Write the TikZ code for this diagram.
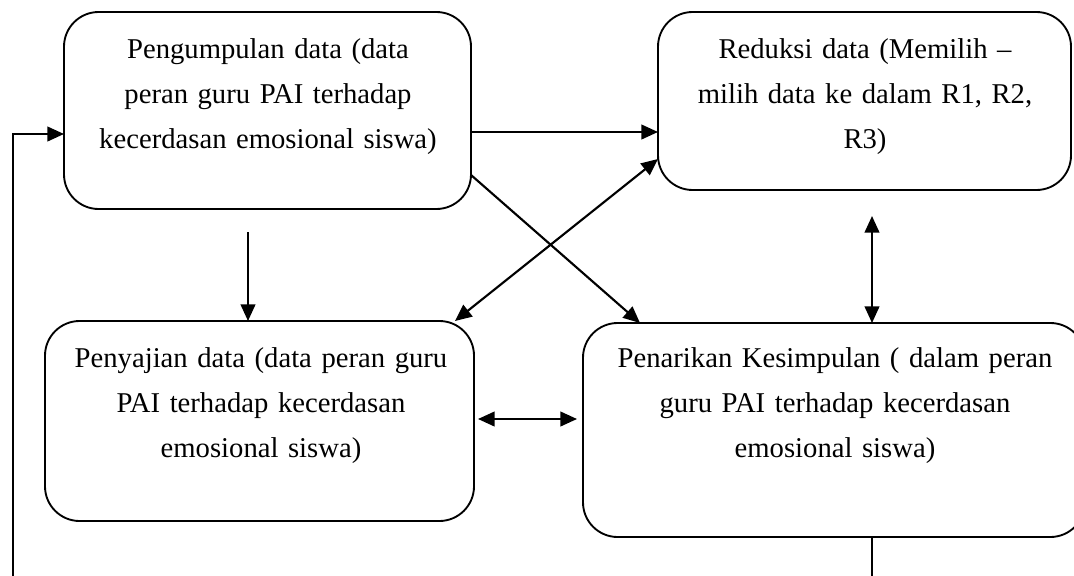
\documentclass[tikz,border=0pt]{standalone}
\usepackage{fontspec}
\setmainfont{Liberation Serif}
\usetikzlibrary{arrows.meta}
\begin{document}
\begin{tikzpicture}[x=0.75pt,y=-0.75pt,
  box/.style={draw,line width=1.4pt,rounded corners=26pt,inner sep=0pt,outer sep=0pt},
  lbl/.style={anchor=base,text width=330pt,align=center,inner sep=0pt,font=\fontsize{21.5pt}{33.75pt}\selectfont},
  arr/.style={line width=1.6pt,-{Triangle[length=12.5pt,width=11pt]}},
  dbl/.style={line width=1.6pt,{Triangle[length=12.5pt,width=11pt]}-{Triangle[length=12.5pt,width=11pt]}}]
\useasboundingbox (0,0) rectangle (1074,575);
\clip (0,0) rectangle (1074,575);
% boxes
\node[box,minimum width=305.25pt,minimum height=147.75pt] (A) at (267.5,110.5) {};
\node[box,minimum width=309.75pt,minimum height=133.5pt] (B) at (864.5,101) {};
\node[box,minimum width=321.75pt,minimum height=150pt] (C) at (259.5,421) {};
\node[box,minimum width=376.5pt,minimum height=160.5pt] (D) at (834,430) {};
% labels
\node[lbl] (tA) at (268,58) {Pengumpulan data (data\\peran guru PAI terhadap\\kecerdasan emosional siswa)};
\node[lbl] (tB) at (865,58) {Reduksi data (Memilih –\\milih data ke dalam R1, R2,\\R3)};
\node[lbl] (tC) at (261,367) {Penyajian data (data peran guru\\PAI terhadap kecerdasan\\emosional siswa)};
\node[lbl] (tD) at (835,367) {Penarikan Kesimpulan ( dalam peran\\guru PAI terhadap kecerdasan\\emosional siswa)};
% free ends
\coordinate (a1) at (248,232);
\coordinate (b1) at (872,216);
% connectors
\draw[arr] (A.east |- 0,132) -- (B.west |- 0,132);
\draw[arr] (A.east |- 0,175) -- (D.north -| 640,0);
\draw[dbl] (C.north -| 455,0) -- (B.west |- 0,159);
\draw[arr] (a1) -- (C.north -| a1);
\draw[dbl] (b1) -- (D.north -| b1);
\draw[dbl,shorten <=3pt,shorten >=4.5pt] (C.east |- 0,419) -- (D.west |- 0,419);
\draw[arr] (D.south -| 872,0) -- (872,600) -| (13,134) -- (A.west |- 0,134);
\end{tikzpicture}
\end{document}
